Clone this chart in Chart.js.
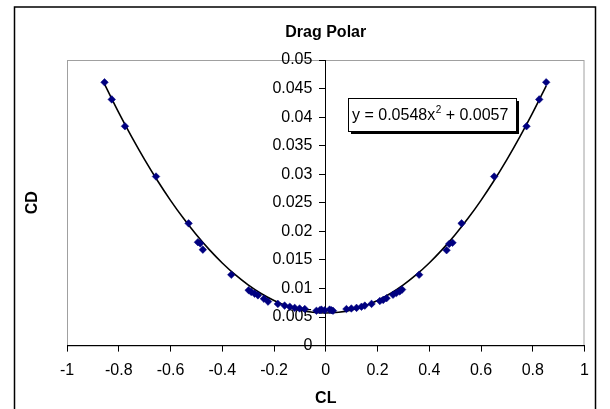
<!DOCTYPE html>
<html>
<head>
<meta charset="utf-8">
<script src="https://cdn.jsdelivr.net/npm/chart.js@4.4.1/dist/chart.umd.min.js"></script>
<style>
  html, body { margin: 0; padding: 0; background: #fff; }
  #wrap { width: 610px; height: 409px; }
</style>
</head>
<body>
<div id="wrap"><canvas id="polar" width="610" height="409"></canvas></div>
<script>
// measured points, lift coefficient vs drag coefficient
const CL = [
  -0.855, -0.827, -0.776, -0.656, -0.530, -0.494, -0.485, -0.475, -0.365,
  -0.298, -0.288, -0.275, -0.262, -0.239, -0.223, -0.185, -0.159, -0.139,
  -0.120, -0.101, -0.081, -0.036, -0.023, -0.017, -0.004, 0.015, 0.022, 0.028,
  0.080, 0.099, 0.119, 0.138, 0.151, 0.177, 0.209, 0.222, 0.235, 0.260,
  0.273, 0.286, 0.295, 0.361, 0.467, 0.477, 0.490, 0.525, 0.651, 0.776,
  0.825, 0.852
];
const CD = [
  0.0461, 0.0431, 0.0384, 0.0296, 0.0214, 0.0181, 0.0179, 0.0168, 0.0124,
  0.0097, 0.0094, 0.0091, 0.0088, 0.0082, 0.0077, 0.0073, 0.0070, 0.0068,
  0.0066, 0.0065, 0.0064, 0.0061, 0.0062, 0.0063, 0.0062, 0.0063, 0.0062, 0.0061,
  0.0064, 0.0065, 0.0066, 0.0068, 0.0070, 0.0073, 0.0078, 0.0080, 0.0083, 0.0089,
  0.0092, 0.0095, 0.0098, 0.0124, 0.0167, 0.0178, 0.0180, 0.0214, 0.0296, 0.0384,
  0.0431, 0.0461
];

// polynomial trendline shown on the chart: y = a*x^2 + c
const TREND_A = 0.0548;
const TREND_C = 0.0057;
const TREND_CL = [
  -0.855, -0.8, -0.75, -0.7, -0.65, -0.6, -0.55, -0.5, -0.45, -0.4, -0.35,
  -0.3, -0.25, -0.2, -0.15, -0.1, -0.05, 0, 0.05, 0.1, 0.15, 0.2, 0.25, 0.3,
  0.35, 0.4, 0.45, 0.5, 0.55, 0.6, 0.65, 0.7, 0.75, 0.8, 0.852
];
const TREND_LABEL = 'y = 0.0548x';
const TREND_LABEL_SUP = '2';
const TREND_LABEL_END = ' + 0.0057';

const FONT = '"Liberation Sans", Arial, sans-serif';

const points = CL.map((x, i) => ({ x: x, y: CD[i] }));
const trend = TREND_CL.map(x => ({ x: x, y: TREND_A * x * x + TREND_C }));

// strips trailing zeros ("0.050" -> "0.05", "-1.0" -> "-1")
const plainNum = v => String(+v.toFixed(4));

// frame round the whole chart + grey frame round the plot area
const framePlugin = {
  id: 'frame',
  beforeDraw(chart) {
    const { ctx, chartArea: a } = chart;
    ctx.save();
    ctx.strokeStyle = '#000';
    ctx.lineWidth = 1.5;
    ctx.strokeRect(14.5, 7, 581, 520);
    ctx.strokeStyle = '#a0a0a0';
    ctx.lineWidth = 1;
    ctx.strokeRect(a.left + 0.5, a.top + 0.5, a.right - a.left - 1, a.bottom - a.top);
    // CD axis title
    ctx.fillStyle = '#000';
    ctx.font = 'bold 16px ' + FONT;
    ctx.textAlign = 'center';
    ctx.textBaseline = 'middle';
    ctx.translate(33, (a.top + a.bottom) / 2);
    ctx.rotate(-Math.PI / 2);
    ctx.fillText('CD', 0, 0);
    ctx.restore();
  }
};

// equation text box with its shadow
const equationPlugin = {
  id: 'equation',
  afterDatasetsDraw(chart) {
    const { ctx } = chart;
    const x = 348, y = 98, w = 168, h = 33;
    ctx.save();
    ctx.fillStyle = '#000';
    ctx.fillRect(x + 3, y + 3, w, h);
    ctx.fillStyle = '#fff';
    ctx.fillRect(x, y, w, h);
    ctx.strokeStyle = '#000';
    ctx.lineWidth = 1;
    ctx.strokeRect(x + 0.5, y + 0.5, w, h);
    ctx.fillStyle = '#000';
    ctx.textBaseline = 'alphabetic';
    ctx.textAlign = 'left';
    ctx.font = '16px ' + FONT;
    let tx = x + 4;
    const base = y + 22;
    ctx.fillText(TREND_LABEL, tx, base);
    tx += ctx.measureText(TREND_LABEL).width + 0.5;
    ctx.font = '10px ' + FONT;
    ctx.fillText(TREND_LABEL_SUP, tx, base - 7);
    tx += ctx.measureText(TREND_LABEL_SUP).width;
    ctx.font = '16px ' + FONT;
    ctx.fillText(TREND_LABEL_END, tx, base);
    ctx.restore();
  }
};

new Chart(document.getElementById('polar'), {
  type: 'scatter',
  data: {
    datasets: [
      {
        label: 'Trend',
        data: trend,
        showLine: true,
        borderColor: '#000',
        borderWidth: 1.6,
        pointRadius: 0,
        tension: 0.4,
        order: 2
      },
      {
        label: 'CD',
        data: points,
        pointStyle: 'rectRot',
        pointRadius: 3.8,
        backgroundColor: '#000080',
        borderColor: '#000080',
        borderWidth: 0.5,
        order: 1
      }
    ]
  },
  options: {
    responsive: false,
    animation: false,
    layout: { padding: { left: 67, right: 25.5, top: 0, bottom: 0 } },
    plugins: {
      legend: { display: false },
      tooltip: { enabled: false },
      title: {
        display: true,
        text: 'Drag Polar',
        color: '#000',
        font: { family: FONT, size: 16, weight: 'bold' },
        padding: { top: 23, bottom: 17.8 }
      }
    },
    scales: {
      x: {
        type: 'linear',
        position: 'bottom',
        min: -1,
        max: 1,
        ticks: {
          stepSize: 0.2, color: '#000', padding: 9,
          font: { family: FONT, size: 16 },
          callback: v => plainNum(v)
        },
        grid: { drawOnChartArea: false, tickLength: 6, color: '#000' },
        border: { color: '#000', width: 1 },
        title: {
          display: true,
          text: 'CL',
          color: '#000',
          font: { family: FONT, size: 16, weight: 'bold' },
          padding: { top: 0, bottom: 1 }
        }
      },
      y: {
        type: 'linear',
        position: { x: 0 },
        min: 0,
        max: 0.05,
        ticks: {
          stepSize: 0.005, color: '#000',
          font: { family: FONT, size: 16 },
          // the crossing axis puts labels on the line, trailing spaces push them left
          callback: v => plainNum(v) + '   '
        },
        grid: { drawOnChartArea: false, tickLength: 6, color: '#000' },
        border: { color: '#000', width: 1 }
      }
    }
  },
  plugins: [framePlugin, equationPlugin]
});
</script>
</body>
</html>
